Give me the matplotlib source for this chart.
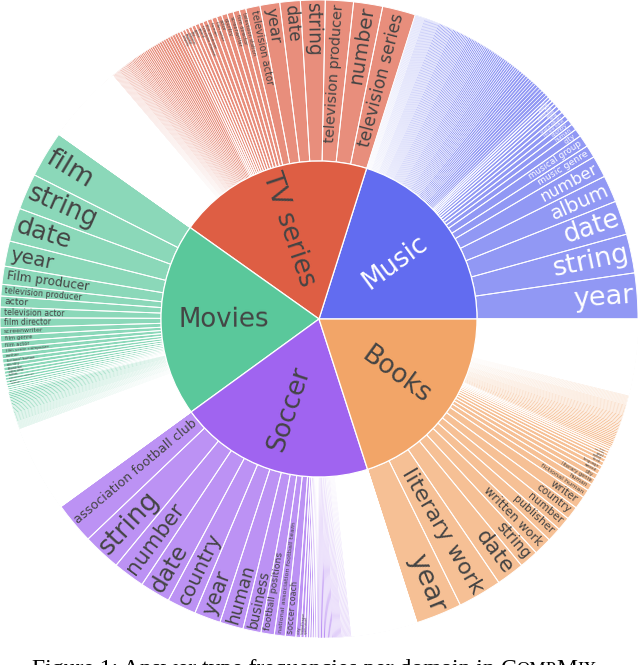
import numpy as np
import matplotlib
matplotlib.use("Agg")
import matplotlib.pyplot as plt
from matplotlib.patches import Wedge
from matplotlib.collections import PatchCollection
from matplotlib.textpath import TextPath
from matplotlib.font_manager import FontProperties

domains = ["Music", "TV series", "Movies", "Soccer", "Books"]

music_types = ["year", "string", "date", "album", "number", "music genre", "musical group", "city",
               "human", "country", "record label", "studio album", "song", "award", "musical work",
               "band", "composer", "singer"]
music_counts = [217, 185, 162, 128, 104, 60, 57, 37, 30, 27, 24, 22, 20, 18, 16, 15, 14, 13]
# (answer count, number of answer types with that count) for the unlabeled long tail
music_tail = [(14, 6), (12, 8), (10, 10), (9, 10), (8, 12), (7, 12), (6, 12), (5, 14), (4, 12)]

tv_types = ["television series", "number", "television producer", "string", "date", "year",
            "television actor", "television station", "film director", "screenwriter", "country",
            "actor", "film actor", "human", "film producer", "television channel", "award", "genre",
            "city", "character", "language", "company"]
tv_counts = [157, 138, 133, 117, 97, 94, 68, 31, 30, 29, 27, 25, 24, 23, 21, 20, 19, 18, 17, 16, 15, 14]
tv_tail = [(13, 3), (12, 3), (11, 3), (10, 4), (9, 4), (8, 5), (7, 5), (6, 6), (5, 8), (4, 10),
           (3, 14), (2, 30), (1, 272)]

movie_types = ["film", "string", "date", "year", "Film producer", "television producer", "actor",
               "television actor", "film director", "screenwriter", "film genre", "film actor",
               "film score composer", "author", "fictional human", "country", "character", "voice actor",
               "human", "production company", "award", "language", "city", "genre", "number"]
movie_counts = [222, 172, 159, 120, 86, 55, 52, 50, 47, 37, 31, 29, 26, 23, 21, 19, 18, 16, 15, 14, 13, 12, 11, 10, 9]
movie_tail = [(8, 4), (7, 5), (6, 6), (5, 8), (4, 10), (3, 15), (2, 30), (1, 306)]

soccer_types = ["association football club", "string", "number", "date", "country", "year", "human",
                "business", "football positions", "national association football team", "soccer coach",
                "city", "football league", "sports season", "football player", "stadium", "award",
                "position", "sport"]
soccer_counts = [198, 180, 151, 144, 138, 125, 112, 86, 63, 52, 50, 23, 16, 14, 12, 11, 10, 9, 8]
soccer_tail = [(7, 5), (6, 6), (5, 8), (4, 12), (3, 18), (2, 30), (1, 199)]

book_types = ["year", "literary work", "date", "string", "written work", "publisher", "number", "country",
              "writer", "fictional human", "human", "literary genre", "city", "award", "language", "book",
              "author", "novel", "character", "series", "genre", "place"]
book_counts = [219, 209, 133, 91, 86, 68, 65, 63, 60, 39, 33, 29, 26, 23, 21, 19, 17, 15, 13, 12, 11, 10]
book_tail = [(9, 4), (8, 5), (7, 6), (6, 7), (5, 10), (4, 12), (3, 16), (2, 30), (1, 252)]

inner_colors = ["#626CF0", "#DE5E44", "#5AC89B", "#A064F0", "#F2A568"]
leaf_colors = ["#9198F4", "#E88E7C", "#8BD8B9", "#BC92F4", "#F6C095"]
text_colors = ["white", "#444444", "#444444", "#444444", "#444444"]

groups = [(music_types, music_counts, music_tail), (tv_types, tv_counts, tv_tail),
          (movie_types, movie_counts, movie_tail), (soccer_types, soccer_counts, soccer_tail),
          (book_types, book_counts, book_tail)]

leaves = []
for types, counts, tail in groups:
    labs = list(types)
    vals = list(counts)
    for v, n in tail:
        labs += [""] * n
        vals += [v] * n
    leaves.append((labs, vals))

total = sum(sum(v) for _, v in leaves)

cx, cy = 319, 346
r_in, r_out = 158, 319
pad = 4
fmax = 27
prop = FontProperties(family="DejaVu Sans")

fig = plt.figure(figsize=(6.4, 6.65), dpi=100)
ax = fig.add_axes([0, 0, 1, 1])
ax.set_xlim(0, 640)
ax.set_ylim(0, 665)
ax.axis("off")


def radial_rot(a):
    a = a % 360
    if a <= 90 or a > 270:
        return a if a <= 90 else a - 360
    return a - 180


start = 0.0
for d, (labs, vals) in enumerate(leaves):
    d_start = start
    fills, named, thin, tiny = [], [], [], []
    for lab, v in zip(labs, vals):
        dt = v / total * 360
        fills.append(Wedge((cx, cy), r_out, start, start + dt, width=r_out - r_in))
        edge = Wedge((cx, cy), r_out, start, start + dt, width=r_out - r_in)
        if lab:
            named.append(edge)
        elif v >= 4:
            thin.append(edge)
        else:
            tiny.append(edge)
        if lab:
            dth = np.radians(dt)
            W = TextPath((0, 0), lab, size=1, prop=prop).get_extents().width
            fs = min(fmax, (r_out - pad) * dth / (1.1 + W * dth), (r_out - r_in - 2 * pad) / W)
            if fs >= 2.2:
                L = fs * W
                rc = r_out - pad - L / 2
                a = start + dt / 2
                ax.text(cx + rc * np.cos(np.radians(a)), cy + rc * np.sin(np.radians(a)), lab,
                        fontsize=fs * 0.72, color=text_colors[d], rotation=radial_rot(a),
                        rotation_mode="anchor", ha="center", va="center", family="DejaVu Sans",
                        zorder=3)
        start += dt
    # fills first, white separators on top
    ax.add_collection(PatchCollection(fills, facecolor=leaf_colors[d], edgecolor="none", zorder=1))
    ax.add_collection(PatchCollection(tiny, facecolor="none", edgecolor="white",
                                      linewidth=0.6, zorder=1.4))
    ax.add_collection(PatchCollection(thin, facecolor="none", edgecolor="white",
                                      linewidth=0.3, zorder=1.5))
    ax.add_collection(PatchCollection(named, facecolor="none", edgecolor="white",
                                      linewidth=0.7, zorder=1.6))
    ax.add_patch(Wedge((cx, cy), r_in, d_start, start, facecolor=inner_colors[d],
                       edgecolor="white", linewidth=0.9, zorder=2))
    a = (d_start + start) / 2
    ax.text(cx + 95 * np.cos(np.radians(a)), cy + 95 * np.sin(np.radians(a)), domains[d],
            fontsize=26 * 0.72, color=text_colors[d], rotation=radial_rot(a),
            rotation_mode="anchor", ha="center", va="center", family="DejaVu Sans", zorder=3)

# caption, cut off at the bottom edge like the reference
cap = dict(family="Liberation Serif", color="black", va="baseline", clip_on=False)
t = ax.text(32, -10, "Figure 1: Answer type frequencies per domain in ", fontsize=17.0, **cap)
for piece, size in [("C", 17.0), ("OMP", 13.2), ("M", 17.0), ("IX", 13.2), (".", 17.0)]:
    t = ax.annotate(piece, xy=(1, -10), xycoords=(t, "data"), fontsize=size, **cap)

fig.savefig("out.png", dpi=100)
